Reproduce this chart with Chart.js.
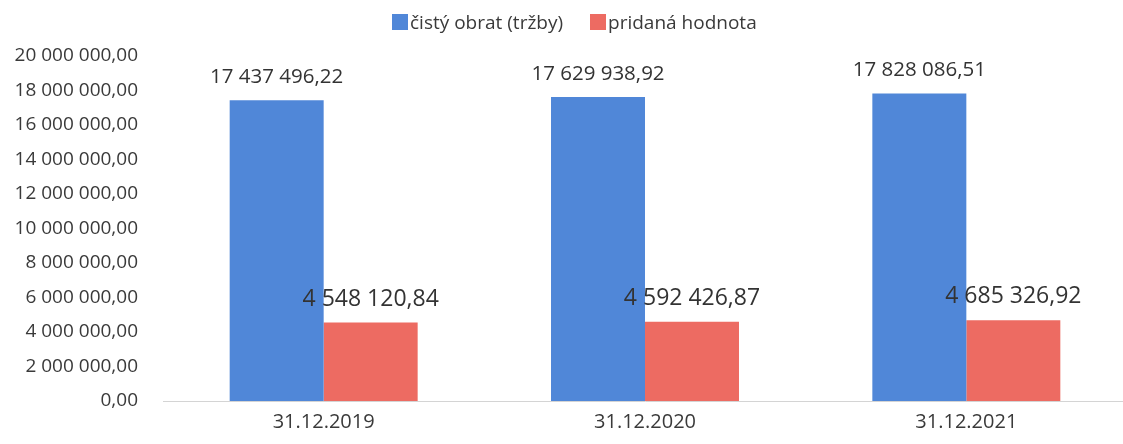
<!DOCTYPE html>
<html>
<head>
<meta charset="utf-8">
<script src="https://cdn.jsdelivr.net/npm/chart.js@4/dist/chart.umd.min.js"></script>
<style>
    html, body { margin: 0; padding: 0; background: #fff; overflow: hidden; }
    .wrap { position: relative; width: 1127px; height: 444px; }
    .legend { position: absolute; top: 9px; left: 392px; display: flex; align-items: center; gap: 27px;
              font-family: 'Open Sans', sans-serif; font-size: 19px; line-height: 26px; color: #3a3a3a; }
    .legend .item { display: flex; align-items: center; }
    .legend .box { width: 16px; height: 16px; margin-right: 2px; }
</style>
</head>
<body>
<div class="wrap">
    <div class="legend">
        <div class="item"><div class="box" style="background:#5087d8"></div><span>čistý obrat (tržby)</span></div>
        <div class="item"><div class="box" style="background:#ed6b62"></div><span>pridaná hodnota</span></div>
    </div>
    <canvas id="chart" width="1127" height="444"></canvas>
</div>
<script>
// Data
const labels = ['31.12.2019', '31.12.2020', '31.12.2021'];
const obrat = [17437496.22, 17629938.92, 17828086.51];
const pridana = [4548120.84, 4592426.87, 4685326.92];
const yTicks = [0, 2000000, 4000000, 6000000, 8000000, 10000000, 12000000, 14000000, 16000000, 18000000, 20000000];

const blue = '#5087d8';
const red = '#ed6b62';
const font = "'Open Sans', sans-serif";

// 17437496.22 -> "17 437 496,22"
function fmt(v) {
    const parts = Number(v).toFixed(2).split('.');
    return parts[0].replace(/\B(?=(\d{3})+(?!\d))/g, ' ') + ',' + parts[1];
}

// Hodnoty nad stlpcami
const valueLabels = {
    id: 'valueLabels',
    afterDatasetsDraw(chart) {
        const ctx = chart.ctx;
        ctx.save();
        ctx.fillStyle = '#333';
        ctx.textAlign = 'center';
        ctx.textBaseline = 'alphabetic';
        chart.data.datasets.forEach((ds, i) => {
            const meta = chart.getDatasetMeta(i);
            ctx.font = (i === 0 ? '20.5px ' : '23px ') + font;
            meta.data.forEach((bar, j) => {
                ctx.fillText(fmt(ds.data[j]), bar.x, bar.y - 17);
            });
        });
        ctx.restore();
    }
};

new Chart(document.getElementById('chart'), {
    type: 'bar',
    data: {
        labels: labels,
        datasets: [
            { label: 'čistý obrat (tržby)', data: obrat, backgroundColor: blue },
            { label: 'pridaná hodnota', data: pridana, backgroundColor: red }
        ]
    },
    options: {
        responsive: false,
        animation: false,
        layout: { padding: { top: 56, left: 15, right: 0, bottom: 1 } },
        datasets: { bar: { categoryPercentage: 0.585, barPercentage: 1 } },
        plugins: {
            legend: { display: false },
            tooltip: { enabled: false }
        },
        scales: {
            x: {
                grid: { display: false, drawTicks: false },
                border: { display: true, color: '#d4d4d4', width: 1 },
                ticks: { color: '#3a3a3a', font: { family: font, size: 20 }, padding: 9 }
            },
            y: {
                min: 0,
                max: 20000000,
                afterBuildTicks(axis) {
                    axis.ticks = yTicks.map(v => ({ value: v }));
                },
                afterFit(axis) {
                    axis.width = 148;
                },
                grid: { display: false, drawTicks: false },
                border: { display: false },
                ticks: {
                    color: '#3a3a3a',
                    font: { family: font, size: 19 },
                    padding: 25,
                    callback: (v) => fmt(v)
                }
            }
        }
    },
    plugins: [valueLabels]
});
</script>
</body>
</html>
